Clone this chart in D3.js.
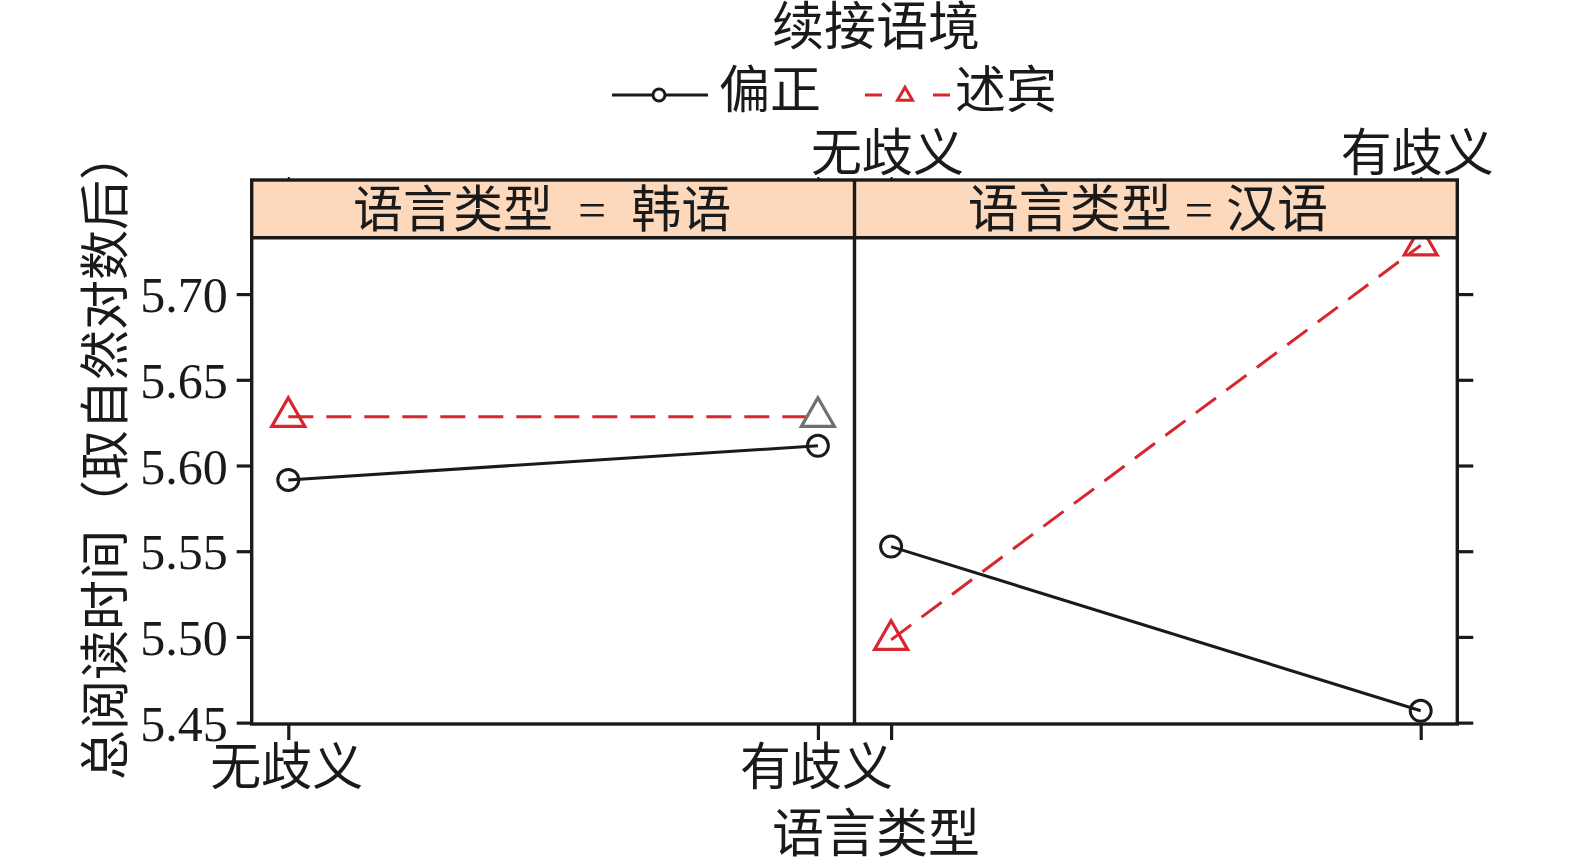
<!DOCTYPE html>
<html><head><meta charset="utf-8">
<script src="https://cdn.jsdelivr.net/npm/d3@7"></script>
<style>
html,body{margin:0;padding:0;background:#fff;}
svg{display:block;}
text{font-family:'Liberation Serif','Noto Sans CJK SC',serif;fill:#1a1a1a;text-spacing-trim:space-all;}
</style></head><body>
<svg id="chart" width="1575" height="866"></svg>
<script>
// ---- data ----
const panels = ['韩语', '汉语'];                 // 语言类型
const stripLabels = ['语言类型  =  韩语', '语言类型 = 汉语'];
const categories = ['无歧义', '有歧义'];        // x categories
const seriesNames = ['偏正', '述宾'];           // 续接语境
const pianzheng = [[5.5916, 5.6115], [5.5527, 5.4569]]; // per panel: [无歧义, 有歧义]
const shubin   = [[5.6284, 5.6284], [5.4983, 5.7284]];
const yTicks = [5.45, 5.50, 5.55, 5.60, 5.65, 5.70];
const titleText = '续接语境';
const xLabel = '语言类型';
const yLabel = '总阅读时间（取自然对数后）';

// ---- layout ----
const svg = d3.select('#chart');
const L = 251.7, R = 1457.3, stripTop = 180, panelTop = 237.7, B = 724;
const mid = (L + R) / 2;
const panelW = (R - L) / 2;
const red = '#d7262d', black = '#1a1a1a', gray = '#707070';
const lw = 3;

const y = d3.scaleLinear().domain([5.4492, 5.7329]).range([B, panelTop]);
const xScales = panels.map((p, i) =>
  d3.scalePoint().domain(categories).range([L + i * panelW, L + (i + 1) * panelW]).padding(0.0691));

svg.append('defs').append('clipPath').attr('id', 'pclip')
  .append('rect').attr('x', L).attr('y', panelTop).attr('width', R - L).attr('height', B - panelTop);

function tri(hw) {
  const r = hw * 1.555 / 1.347, yc = hw * 0.778 / 1.347;
  return `M0,${-r}L${hw},${yc}L${-hw},${yc}Z`;
}

const plot = svg.append('g').attr('clip-path', 'url(#pclip)');
const series = [
  {name: seriesNames[0], vals: pianzheng, color: black, dash: null, shape: 'circle'},
  {name: seriesNames[1], vals: shubin, color: red, dash: '25,13', shape: 'tri'}
];
panels.forEach((p, pi) => {
  const x = xScales[pi];
  series.forEach(s => {
    const pts = categories.map((c, ci) => [x(c), y(s.vals[pi][ci])]);
    plot.append('path').attr('d', d3.line()(pts))
      .attr('fill', 'none').attr('stroke', s.color).attr('stroke-width', lw)
      .attr('stroke-dasharray', s.dash);
  });
  series.forEach((s, si) => {
    categories.forEach((c, ci) => {
      const cx = x(c), cy = y(s.vals[pi][ci]);
      const col = (si === 1 && pi === 0 && ci === 1) ? gray : s.color;
      if (s.shape === 'circle') {
        plot.append('circle').attr('cx', cx).attr('cy', cy).attr('r', 10.5)
          .attr('fill', 'none').attr('stroke', col).attr('stroke-width', lw);
      } else {
        plot.append('path').attr('d', tri(16.5)).attr('transform', `translate(${cx},${cy})`)
          .attr('fill', 'none').attr('stroke', col).attr('stroke-width', 3.2);
      }
    });
  });
});

// strips
panels.forEach((p, pi) => {
  const x0 = L + pi * panelW;
  svg.append('rect').attr('x', x0).attr('y', stripTop).attr('width', panelW).attr('height', panelTop - stripTop)
    .attr('fill', '#fcd9bc');
  svg.append('text').attr('x', x0 + panelW / 2 - (pi === 0 ? 11 : 8)).attr('y', (stripTop + panelTop) / 2 + 18)
    .attr('text-anchor', 'middle').style('font-size', pi === 0 ? '50px' : '51px').style('white-space', 'pre')
    .attr('xml:space', 'preserve').text(stripLabels[pi]);
});

// frames
const frame = svg.append('g').attr('fill', 'none').attr('stroke', black).attr('stroke-width', 3.4);
frame.append('rect').attr('x', L).attr('y', stripTop).attr('width', R - L).attr('height', B - stripTop);
frame.append('line').attr('x1', L).attr('x2', R).attr('y1', panelTop).attr('y2', panelTop);
frame.append('line').attr('x1', mid).attr('x2', mid).attr('y1', stripTop).attr('y2', B);

// left y axis
const yAxisL = d3.axisLeft(y).tickValues(yTicks).tickFormat(d3.format('.2f')).tickSize(15).tickPadding(9);
const gL = svg.append('g').attr('transform', `translate(${L},0)`).call(yAxisL);
gL.select('.domain').remove();
gL.selectAll('.tick line').attr('stroke', black).attr('stroke-width', 3.2);
gL.selectAll('.tick text').style('font-size', '50px').style('font-family', "'Liberation Serif',serif")
  .attr('fill', black).attr('dy', '0.35em');

// right y axis (ticks only)
const yAxisR = d3.axisRight(y).tickValues(yTicks).tickFormat('').tickSize(16);
const gR = svg.append('g').attr('transform', `translate(${R},0)`).call(yAxisR);
gR.select('.domain').remove();
gR.selectAll('.tick line').attr('stroke', black).attr('stroke-width', 3.2);

panels.forEach((p, pi) => {
  const ax = d3.axisBottom(xScales[pi]).tickSize(16).tickPadding(8)
    .tickFormat(pi === 0 ? (d => d) : () => '');
  const g = svg.append('g').attr('transform', `translate(0,${B})`).call(ax);
  g.select('.domain').remove();
  g.selectAll('.tick line').attr('stroke', black).attr('stroke-width', 3.2);
  g.selectAll('.tick text').style('font-size', '51px').attr('fill', black)
    .attr('dy', null).attr('y', 61).attr('x', -2);
  const axT = d3.axisTop(xScales[pi]).tickSize(3).tickPadding(6)
    .tickFormat(pi === 1 ? (d => d) : () => '');
  const gT = svg.append('g').attr('transform', `translate(0,${stripTop})`).call(axT);
  gT.select('.domain').remove();
  gT.selectAll('.tick line').attr('stroke', black).attr('stroke-width', 2);
  gT.selectAll('.tick text').style('font-size', '51px').attr('fill', black)
    .attr('y', -9).attr('x', -4);
});

// axis titles
svg.append('text').attr('x', 876).attr('y', 852).attr('text-anchor', 'middle')
  .style('font-size', '52px').text(xLabel);
svg.append('text').attr('transform', 'translate(123,455) rotate(-90)').attr('text-anchor', 'middle')
  .style('font-size', '50px').text(yLabel);

// title + legend
svg.append('text').attr('x', 876).attr('y', 45).attr('text-anchor', 'middle')
  .style('font-size', '52px').text(titleText);
const leg = svg.append('g');
leg.append('line').attr('x1', 612).attr('x2', 708).attr('y1', 95).attr('y2', 95)
  .attr('stroke', black).attr('stroke-width', lw);
leg.append('circle').attr('cx', 659).attr('cy', 95).attr('r', 6)
  .attr('fill', '#fff').attr('stroke', black).attr('stroke-width', lw);
leg.append('text').attr('x', 719).attr('y', 108).style('font-size', '51px').text(seriesNames[0]);
leg.append('line').attr('x1', 865).attr('x2', 950).attr('y1', 95).attr('y2', 95)
  .attr('stroke', red).attr('stroke-width', lw).attr('stroke-dasharray', '17,51');
leg.append('path').attr('d', tri(7.5)).attr('transform', 'translate(905,96)')
  .attr('fill', '#fff').attr('stroke', red).attr('stroke-width', 3);
leg.append('text').attr('x', 955).attr('y', 108).style('font-size', '51px').text(seriesNames[1]);
</script>
</body></html>
